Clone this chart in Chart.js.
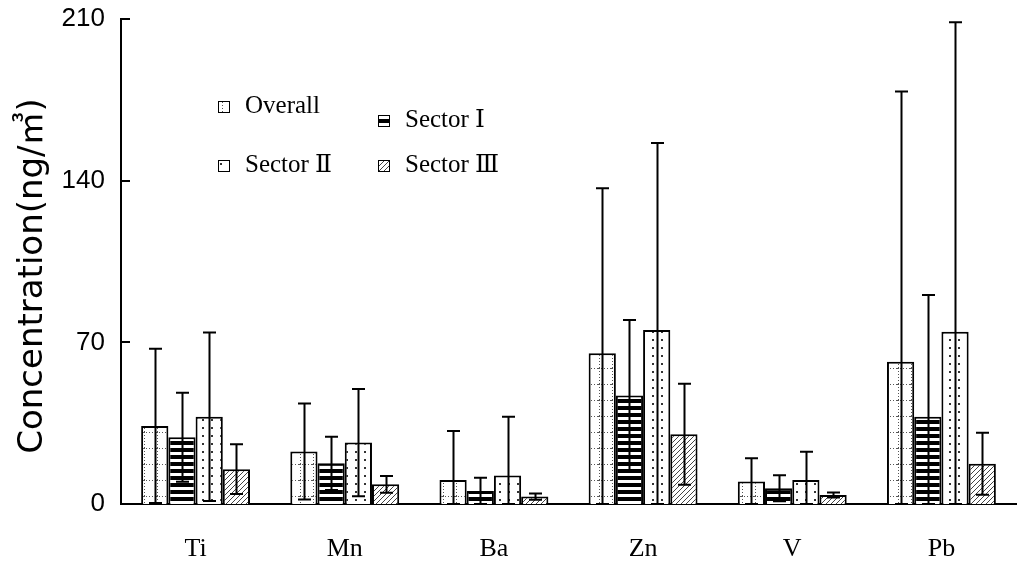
<!DOCTYPE html>
<html>
<head>
<meta charset="utf-8">
<title>Concentration by element</title>
<script src="https://cdn.jsdelivr.net/npm/chart.js@4"></script>
<style>
  html, body { margin: 0; padding: 0; background: #fff; }
  #wrap { width: 1021px; height: 572px; position: relative; }
</style>
</head>
<body>
<div id="wrap"><canvas id="chart" width="1021" height="572"></canvas></div>
<script>
// Elements on the x axis
const elements = ['Ti', 'Mn', 'Ba', 'Zn', 'V', 'Pb'];
// Series names
const seriesNames = ['Overall', 'Sector Ⅰ', 'Sector Ⅱ', 'Sector Ⅲ'];
// Mean concentrations (ng/m³) and standard deviations per series
const overallMean = [33.8, 22.7, 10.4, 65.3, 9.7, 61.6];
const overallSD   = [33.4, 20.8, 21.2, 71.4, 10.1, 117.0];
const sector1Mean = [28.9, 17.6, 5.6, 47.0, 6.8, 37.8];
const sector1SD   = [19.3, 11.5, 5.8, 32.7, 5.6, 52.7];
const sector2Mean = [37.8, 26.6, 12.3, 75.3, 10.4, 74.6];
const sector2SD   = [36.5, 23.2, 25.5, 81.0, 12.2, 134.0];
const sector3Mean = [15.1, 8.5, 3.2, 30.2, 3.9, 17.4];
const sector3SD   = [10.8, 3.6, 1.4, 21.9, 1.1, 13.4];
// Y axis tick values
const yTicks = [0, 70, 140, 210];
const yTitle = 'Concentration(ng/㎥)';

const serifFont = "'Liberation Serif', 'DejaVu Serif', 'Noto Sans CJK KR', serif";
const sansFont = "'Liberation Sans', Arial, sans-serif";
const titleFont = "'DejaVu Sans', 'Noto Sans CJK KR', sans-serif";

// Monochrome fill patterns for the four series
function makePattern(kind) {
  const c = document.createElement('canvas');
  const g = c.getContext('2d');
  if (kind === 'grid') {
    c.width = 13; c.height = 16;
    g.fillStyle = '#fff'; g.fillRect(0, 0, 13, 16);
    g.fillStyle = '#555';
    for (let x = 0; x < 13; x += 3) g.fillRect(x, 0, 1, 1);
    for (let y = 0; y < 16; y += 3) g.fillRect(1, y, 1, 1);
  } else if (kind === 'stripes') {
    c.width = 8; c.height = 7;
    g.fillStyle = '#fff'; g.fillRect(0, 0, 8, 7);
    g.fillStyle = '#000'; g.fillRect(0, 0, 8, 4);
  } else if (kind === 'dots') {
    c.width = 9; c.height = 8;
    g.fillStyle = '#fff'; g.fillRect(0, 0, 9, 8);
    g.fillStyle = '#333'; g.fillRect(4, 3, 2, 2);
  } else {
    c.width = 5; c.height = 5;
    g.fillStyle = '#fff'; g.fillRect(0, 0, 5, 5);
    g.strokeStyle = '#444'; g.lineWidth = 1;
    g.beginPath();
    g.moveTo(0, 5); g.lineTo(5, 0);
    g.moveTo(-1, 1); g.lineTo(1, -1);
    g.moveTo(4, 6); g.lineTo(6, 4);
    g.stroke();
  }
  return g.createPattern(c, 'repeat');
}

const fills = [makePattern('grid'), makePattern('stripes'), makePattern('dots'), makePattern('hatch')];
const means = [overallMean, sector1Mean, sector2Mean, sector3Mean];
const sds = [overallSD, sector1SD, sector2SD, sector3SD];

// Mean ± SD whiskers, clipped at zero
const errorBars = {
  id: 'errorBars',
  afterDatasetsDraw(chart) {
    const ctx = chart.ctx;
    const y = chart.scales.y;
    ctx.save();
    ctx.strokeStyle = '#000';
    ctx.lineWidth = 2;
    chart.data.datasets.forEach((ds, i) => {
      const meta = chart.getDatasetMeta(i);
      meta.data.forEach((bar, j) => {
        const m = means[i][j], s = sds[i][j];
        const top = y.getPixelForValue(m + s);
        const bot = y.getPixelForValue(Math.max(0, m - s));
        const x = Math.round(bar.x) + 0.5;
        const cap = 6.5;
        ctx.beginPath();
        ctx.moveTo(x, top); ctx.lineTo(x, bot);
        ctx.moveTo(x - cap, top); ctx.lineTo(x + cap, top);
        ctx.moveTo(x - cap, bot); ctx.lineTo(x + cap, bot);
        ctx.stroke();
      });
    });
    ctx.restore();
  }
};

// Inward tick marks on the value axis and the rotated axis title
const axisExtras = {
  id: 'axisExtras',
  afterDraw(chart) {
    const ctx = chart.ctx;
    const y = chart.scales.y;
    const left = chart.chartArea.left;
    ctx.save();
    ctx.strokeStyle = '#000';
    ctx.lineWidth = 2;
    y.ticks.forEach(t => {
      const py = Math.round(y.getPixelForValue(t.value));
      ctx.beginPath();
      ctx.moveTo(left, py); ctx.lineTo(left + 9, py);
      ctx.stroke();
    });
    ctx.translate(33, 276);
    ctx.rotate(-Math.PI / 2);
    ctx.font = '34px ' + titleFont;
    ctx.fillStyle = '#000';
    ctx.textAlign = 'center';
    ctx.textBaseline = 'middle';
    ctx.fillText(yTitle, 0, 0);
    ctx.restore();
  }
};

// Two-column legend drawn inside the plot area
const legendSpots = [
  { x: 218, y: 113 },
  { x: 378, y: 127 },
  { x: 218, y: 172 },
  { x: 378, y: 172 }
];
const insideLegend = {
  id: 'insideLegend',
  afterDraw(chart) {
    const ctx = chart.ctx;
    ctx.save();
    ctx.font = '25px ' + serifFont;
    ctx.textBaseline = 'alphabetic';
    seriesNames.forEach((name, i) => {
      const p = legendSpots[i];
      const box = 12;
      ctx.fillStyle = fills[i];
      ctx.fillRect(p.x, p.y - box, box, box);
      ctx.strokeStyle = '#000';
      ctx.lineWidth = 1;
      ctx.strokeRect(p.x + 0.5, p.y - box + 0.5, box - 1, box - 1);
      ctx.fillStyle = '#000';
      ctx.fillText(name, p.x + 27, p.y);
    });
    ctx.restore();
  }
};

new Chart(document.getElementById('chart'), {
  type: 'bar',
  data: {
    labels: elements,
    datasets: seriesNames.map((name, i) => ({
      label: name,
      data: means[i],
      backgroundColor: fills[i],
      borderColor: '#000',
      borderWidth: 2,
      categoryPercentage: 0.73,
      barPercentage: 1.0
    }))
  },
  options: {
    responsive: false,
    animation: false,
    devicePixelRatio: 1,
    layout: { padding: { top: 19, right: 5, left: 0, bottom: 0 } },
    plugins: {
      legend: { display: false },
      tooltip: { enabled: false }
    },
    scales: {
      x: {
        grid: { display: false, drawTicks: false },
        border: { display: true, color: '#000', width: 2 },
        ticks: {
          color: '#000',
          padding: 30,
          font: { family: serifFont, size: 26 }
        },
        afterFit(scale) { scale.height = 68; scale.paddingLeft = 0; scale.paddingRight = 0; }
      },
      y: {
        min: 0,
        max: 210,
        afterBuildTicks(scale) { scale.ticks = yTicks.map(v => ({ value: v })); },
        grid: { display: false, drawTicks: false },
        border: { display: true, color: '#000', width: 2 },
        ticks: {
          color: '#000',
          padding: 16,
          font: { family: sansFont, size: 26 }
        },
        afterFit(scale) { scale.width = 121; scale.paddingTop = 0; scale.paddingBottom = 0; }
      }
    }
  },
  plugins: [errorBars, axisExtras, insideLegend]
});
</script>
</body>
</html>
